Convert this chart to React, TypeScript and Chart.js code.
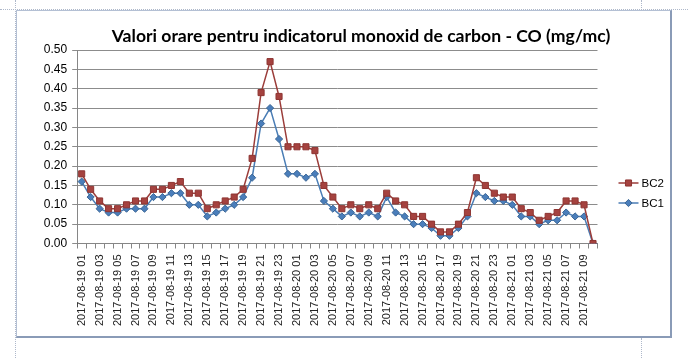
import React, { useEffect, useRef } from 'react';
import { Chart, registerables } from 'chart.js';
import { drawPoint } from 'chart.js/helpers';

Chart.register(...registerables);

const TITLE = 'Valori orare pentru indicatorul monoxid de carbon - CO (mg/mc)';

const CATEGORIES = [
  '2017-08-19 01', '2017-08-19 02', '2017-08-19 03', '2017-08-19 04', '2017-08-19 05', '2017-08-19 06',
  '2017-08-19 07', '2017-08-19 08', '2017-08-19 09', '2017-08-19 10', '2017-08-19 11', '2017-08-19 12',
  '2017-08-19 13', '2017-08-19 14', '2017-08-19 15', '2017-08-19 16', '2017-08-19 17', '2017-08-19 18',
  '2017-08-19 19', '2017-08-19 20', '2017-08-19 21', '2017-08-19 22', '2017-08-19 23', '2017-08-19 24',
  '2017-08-20 01', '2017-08-20 02', '2017-08-20 03', '2017-08-20 04', '2017-08-20 05', '2017-08-20 06',
  '2017-08-20 07', '2017-08-20 08', '2017-08-20 09', '2017-08-20 10', '2017-08-20 11', '2017-08-20 12',
  '2017-08-20 13', '2017-08-20 14', '2017-08-20 15', '2017-08-20 16', '2017-08-20 17', '2017-08-20 18',
  '2017-08-20 19', '2017-08-20 20', '2017-08-20 21', '2017-08-20 22', '2017-08-20 23', '2017-08-20 24',
  '2017-08-21 01', '2017-08-21 02', '2017-08-21 03', '2017-08-21 04', '2017-08-21 05', '2017-08-21 06',
  '2017-08-21 07', '2017-08-21 08', '2017-08-21 09', '2017-08-21 10',
];

const BC2 = [
  0.18, 0.14, 0.11, 0.09, 0.09, 0.10, 0.11, 0.11, 0.14, 0.14, 0.15, 0.16,
  0.13, 0.13, 0.09, 0.10, 0.11, 0.12, 0.14, 0.22, 0.39, 0.47, 0.38, 0.25,
  0.25, 0.25, 0.24, 0.15, 0.12, 0.09, 0.10, 0.09, 0.10, 0.09, 0.13, 0.11,
  0.10, 0.07, 0.07, 0.05, 0.03, 0.03, 0.05, 0.08, 0.17, 0.15, 0.13, 0.12,
  0.12, 0.09, 0.08, 0.06, 0.07, 0.08, 0.11, 0.11, 0.10, 0.00,
];

const BC1 = [
  0.16, 0.12, 0.09, 0.08, 0.08, 0.09, 0.09, 0.09, 0.12, 0.12, 0.13, 0.13,
  0.10, 0.10, 0.07, 0.08, 0.09, 0.10, 0.12, 0.17, 0.31, 0.35, 0.27, 0.18,
  0.18, 0.17, 0.18, 0.11, 0.09, 0.07, 0.08, 0.07, 0.08, 0.07, 0.12, 0.08,
  0.07, 0.05, 0.05, 0.04, 0.02, 0.02, 0.04, 0.07, 0.13, 0.12, 0.11, 0.11,
  0.10, 0.07, 0.07, 0.05, 0.06, 0.06, 0.08, 0.07, 0.07, 0.00,
];

const SERIES_NAMES = ['BC2', 'BC1'];
const Y_MIN = 0;
const Y_MAX = 0.5;
const Y_STEP = 0.05;

const FONT = "'Liberation Sans', Arial, sans-serif";

const sideLegend = {
  id: 'sideLegend',
  afterDraw(chart: any) {
    const { ctx, chartArea } = chart;
    const x0 = chartArea.right + 21;
    const yMid = 182;
    ctx.save();
    chart.data.datasets.forEach((ds: any, i: number) => {
      const y = yMid - 10 + i * 20;
      ctx.strokeStyle = ds.borderColor;
      ctx.lineWidth = ds.borderWidth;
      ctx.beginPath();
      ctx.moveTo(x0, y);
      ctx.lineTo(x0 + 20, y);
      ctx.stroke();
      ctx.fillStyle = ds.pointBackgroundColor;
      ctx.strokeStyle = ds.pointBorderColor;
      ctx.lineWidth = ds.pointBorderWidth;
      drawPoint(ctx, { pointStyle: ds.pointStyle, rotation: 0, radius: ds.pointRadius, borderWidth: ds.pointBorderWidth }, x0 + 10, y);
      ctx.fillStyle = '#000';
      ctx.font = `11.5px ${FONT}`;
      ctx.textBaseline = 'middle';
      ctx.textAlign = 'left';
      ctx.fillText(ds.label, x0 + 23, y + 0.5);
    });
    ctx.restore();
  },
};

export default function App() {
  const ref = useRef<HTMLCanvasElement | null>(null);

  useEffect(() => {
    if (!ref.current) return;
    const chart = new Chart(ref.current, {
      type: 'line',
      data: {
        labels: CATEGORIES,
        datasets: [
          {
            label: SERIES_NAMES[0],
            data: BC2,
            borderColor: '#9B3D3A',
            borderWidth: 1.5,
            pointStyle: 'rect',
            pointRadius: 4.3,
            pointBackgroundColor: '#A5423F',
            pointBorderColor: '#8E3532',
            pointBorderWidth: 1,
            tension: 0,
          },
          {
            label: SERIES_NAMES[1],
            data: BC1,
            borderColor: '#4A7DB5',
            borderWidth: 1.5,
            pointStyle: 'rectRot',
            pointRadius: 3.6,
            pointBackgroundColor: '#4A7EBB',
            pointBorderColor: '#3A6594',
            pointBorderWidth: 1,
            tension: 0,
          },
        ],
      },
      options: {
        animation: false,
        responsive: false,
        devicePixelRatio: 1,
        layout: { padding: { left: 0, right: 0, top: 0, bottom: 0 } },
        plugins: {
          legend: { display: false },
          tooltip: { enabled: false },
          title: {
            display: true,
            text: TITLE,
            color: '#000',
            font: { family: "Lato, 'Open Sans', sans-serif", size: 17.6, weight: 'bold', lineHeight: 1.2 },
            padding: { top: 14.4, bottom: 3.5 },
          },
        },
        scales: {
          x: {
            type: 'category',
            offset: true,
            grid: {
              display: true,
              offset: true,
              drawOnChartArea: false,
              drawTicks: true,
              tickLength: 5,
              color: '#868686',
            },
            border: { display: true, color: '#868686', width: 1 },
            ticks: {
              autoSkip: false,
              maxRotation: 90,
              minRotation: 90,
              padding: 6,
              color: '#222',
              font: { family: FONT, size: 11 },
              callback: function (this: any, value: any, index: number) {
                return index % 2 === 0 ? this.getLabelForValue(value) : '';
              },
            },
            afterFit: (s: any) => { s.height = 92.5; },
          },
          y: {
            min: Y_MIN,
            max: Y_MAX,
            grid: { color: '#8C8C8C', drawTicks: true, tickLength: 5 },
            border: { display: true, color: '#868686', width: 1 },
            ticks: {
              stepSize: Y_STEP,
              padding: 5,
              color: '#000',
              font: { family: FONT, size: 12 },
              callback: (v: any) => Number(v).toFixed(2),
            },
            afterFit: (s: any) => { s.width = 60.2; },
          },
          legendSpace: {
            type: 'linear',
            position: 'right',
            display: true,
            grid: { display: false, drawTicks: false },
            border: { display: false },
            ticks: { display: false },
            afterFit: (s: any) => { s.width = 107.5; },
          },
        },
      },
      plugins: [sideLegend],
    });
    return () => chart.destroy();
  }, []);

  const dotted = '1px dotted #AEB8CA';
  return (
    <div style={{ position: 'fixed', left: 0, top: 0, width: 688, height: 358, overflow: 'hidden', background: '#fff' }}>
      <div style={{ position: 'absolute', left: 0, top: 9, width: 688, height: 0, borderTop: dotted }} />
      <div style={{ position: 'absolute', left: 15, top: 0, width: 0, height: 358, borderLeft: dotted }} />
      <div style={{ position: 'absolute', left: 641, top: 0, width: 0, height: 10, borderLeft: dotted }} />
      <div style={{ position: 'absolute', left: 641, top: 338, width: 0, height: 20, borderLeft: dotted }} />
      <div
        style={{
          position: 'absolute', left: 16, top: 10, width: 653, height: 325,
          borderTop: '1px solid #B4C0D4', borderLeft: '1px solid #B4C0D4',
          borderRight: '2px solid #8A9BB7', borderBottom: '2px solid #8A9BB7',
          background: '#fff',
        }}
      />
      <canvas ref={ref} width={688} height={325} style={{ position: 'absolute', left: 17, top: 11, width: 688, height: 325 }} />
    </div>
  );
}
